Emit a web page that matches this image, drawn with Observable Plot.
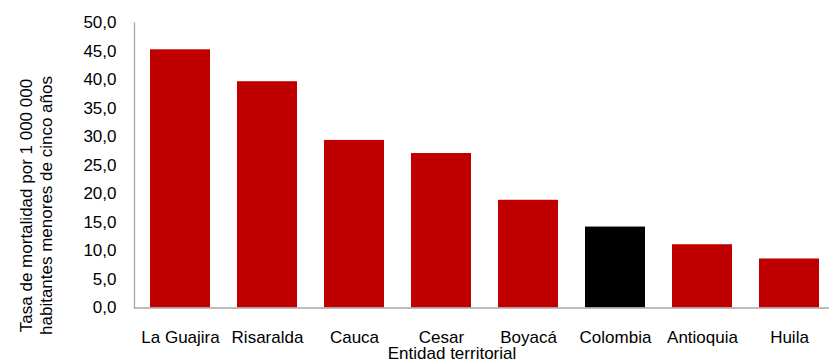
<!DOCTYPE html>
<html>
<head>
<meta charset="utf-8">
<script src="https://cdn.jsdelivr.net/npm/d3@7"></script>
<script src="https://cdn.jsdelivr.net/npm/@observablehq/plot@0.6"></script>
<style>
  html, body { margin: 0; padding: 0; background: #fff; overflow: hidden; }
</style>
</head>
<body>
<div id="chart"></div>
<script>
// Tasa de mortalidad por entidad territorial
const entities = ["La Guajira", "Risaralda", "Cauca", "Cesar", "Boyacá", "Colombia", "Antioquia", "Huila"];
const rates = [45.3, 39.7, 29.4, 27.1, 18.9, 14.2, 11.1, 8.6];
const nationalEntity = "Colombia";
const yTicks = [0, 5, 10, 15, 20, 25, 30, 35, 40, 45, 50];
const yTitle = "Tasa de mortalidad por 1 000 000\nhabitantes menores de cinco años";
const xTitle = "Entidad territorial";

const rows = entities.map((entity, i) => ({entity, rate: rates[i]}));
const comma = d => d.toFixed(1).replace(".", ",");
const axisGray = "#a6a6a6";

const chart = Plot.plot({
  width: 829,
  height: 361,
  marginTop: 22.5,
  marginBottom: 53.5,
  marginLeft: 134,
  marginRight: 0,
  style: {
    fontFamily: '"Liberation Sans", Arial, sans-serif',
    fontSize: "17px",
    color: "#000",
    background: "#fff"
  },
  x: {domain: entities, range: [134, 835], paddingInner: 0.315, paddingOuter: 0.1575},
  y: {domain: [0, 50]},
  marks: [
    Plot.barY(rows, {filter: d => d.entity !== nationalEntity, x: "entity", y: "rate", fill: "#c00000"}),
    Plot.barY(rows, {filter: d => d.entity === nationalEntity, x: "entity", y: "rate", fill: "#000000"}),
    Plot.ruleY([0], {stroke: axisGray, strokeWidth: 1.3}),
    Plot.frame({anchor: "left", stroke: axisGray, strokeWidth: 1.3}),
    Plot.axisY({ticks: yTicks, tickFormat: comma, tickSize: 0, tickPadding: 18, label: null}),
    Plot.axisX({tickSize: 0, tickPadding: 23, label: null}),
    Plot.text([yTitle], {
      frameAnchor: "left", text: d => d, rotate: -90, textAnchor: "middle", lineAnchor: "middle",
      dx: -99, dy: 40, lineHeight: 1.2
    }),
    Plot.text([xTitle], {frameAnchor: "bottom", text: d => d, textAnchor: "middle", dx: -30, dy: 39, lineAnchor: "top"})
  ]
});

document.getElementById("chart").appendChild(chart);
</script>
</body>
</html>
